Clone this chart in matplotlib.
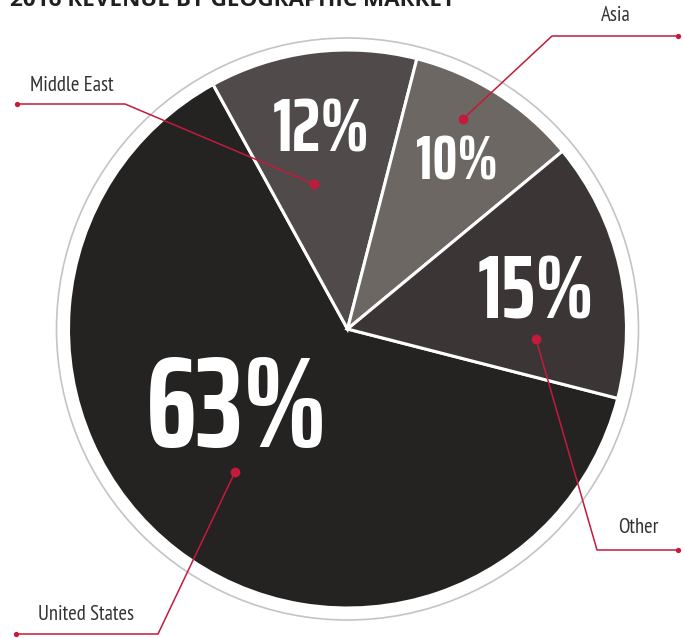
import matplotlib
matplotlib.use("Agg")
import matplotlib.pyplot as plt
from matplotlib.patches import Circle

# ---- data ----
categories = ["United States", "Middle East", "Asia", "Other"]
shares = [63, 12, 10, 15]
pct_labels = ["63%", "12%", "10%", "15%"]
title = "2016 REVENUE BY GEOGRAPHIC MARKET"

# ---- styles / layout (image pixel coordinates, y from top) ----
W, H = 686, 638
colors = ["#252321", "#504a4a", "#6d6764", "#3b3635"]
red = "#c41a3b"
center_img = (347.5, 329)
radius = 279
ring_r = 291
pct_pos = [(237, 412), (321, 131), (457, 163), (536, 294)]
pct_width = [182, 97, 82, 117]
dot_pos = [(235, 472), (314, 184), (463, 119), (536, 339)]
corner_pos = [(158, 634), (125, 104), (552, 36), (597, 550)]
end_pos = [(16, 634), (17, 104), (678, 36), (678, 550)]
label_pos = [(38, 620, "left"), (30, 91, "left"), (616, 21, "center"), (638, 533, "center")]
PCT_FONT = ["Saira ExtraCondensed", "Barlow Condensed", "DejaVu Sans"]
LBL_FONT = ["PT Sans Narrow", "DejaVu Sans"]


def fy(y):
    return H - y


fig = plt.figure(figsize=(W / 100, H / 100), dpi=100)
ax = fig.add_axes([0, 0, 1, 1])

# pie: United States first, going clockwise
ax.pie(shares, colors=colors, startangle=-14.4, counterclock=False,
       radius=radius, center=(center_img[0], fy(center_img[1])),
       wedgeprops=dict(edgecolor="white", linewidth=2.2), frame=False)

ax.add_patch(Circle((center_img[0], fy(center_img[1])), ring_r, fill=False,
                    edgecolor="#c4c4c4", linewidth=1.2, zorder=0))

ax.set_xlim(0, W)
ax.set_ylim(0, H)
ax.set_aspect("equal")
ax.axis("off")

fig.canvas.draw()
renderer = fig.canvas.get_renderer()


def fit(t, width, base):
    bb = t.get_window_extent(renderer)
    t.set_fontsize(base * width / bb.width)


for txt, (x, y), w in zip(pct_labels, pct_pos, pct_width):
    t = ax.text(x, fy(y), txt, color="white", fontsize=50, fontweight=700,
                family=PCT_FONT, ha="center", va="center", zorder=5)
    fit(t, w, 50)

lbl_texts = []
for name, d, c, e, (lx, ly, ha) in zip(categories, dot_pos, corner_pos, end_pos, label_pos):
    xs = [d[0], c[0], e[0]]
    ys = [fy(d[1]), fy(c[1]), fy(e[1])]
    ax.plot(xs, ys, color=red, linewidth=1.1, zorder=6, solid_capstyle="butt")
    ax.plot([d[0]], [fy(d[1])], "o", color=red, markersize=7, zorder=7, markeredgewidth=0)
    ax.plot([e[0]], [fy(e[1])], "o", color=red, markersize=3.8, zorder=7, markeredgewidth=0)
    t = ax.text(lx, fy(ly), name, fontsize=13, color="#333333", ha=ha, va="baseline",
                family=LBL_FONT, zorder=8)
    lbl_texts.append(t)

# size labels so "Middle East" spans ~83 px
bb = lbl_texts[1].get_window_extent(renderer)
lsize = 13 * 83 / bb.width
for t in lbl_texts:
    t.set_fontsize(lsize)

# title, clipped by the top of the figure as in the source
tt = ax.text(10, fy(6), title, fontsize=15, fontweight="bold", color="#231f20",
             ha="left", va="baseline", family=["Open Sans", "DejaVu Sans"])
fit(tt, 445, 15)

fig.savefig("out.png", dpi=100)
